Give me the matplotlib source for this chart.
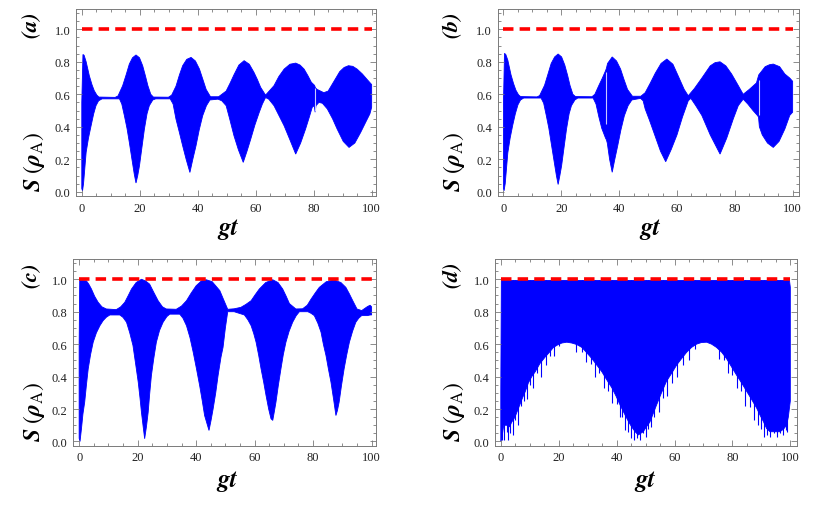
import numpy as np
import matplotlib
matplotlib.use("Agg")
import matplotlib.pyplot as plt
from matplotlib.ticker import MultipleLocator, FormatStrFormatter

plt.rcParams['mathtext.fontset'] = 'stix'

# ---- envelope values (gt, S) ----
# panel (a)
up_gt_a = [0, 0.4, 0.8, 1.5, 2.6, 3.5, 4.3, 5.2, 5.9, 11.5, 12.5, 14.1, 15.3, 16.4, 17.5, 18.7,
           19.9, 21, 22, 22.8, 23.8, 24.7, 29.9, 31, 32.5, 33.7, 34.8, 36.2, 37.7, 39.2, 40.6,
           41.8, 42.9, 44.4, 47.2, 49.8, 51.2, 52.5, 54.2, 56, 57.8, 59.4, 60.6, 61.7, 63.4, 66.3,
           68, 69.8, 71.8, 73.8, 75.3, 76.7, 78, 79.2, 80.3, 80.6, 81.2, 83.5, 85, 87, 89, 90.5,
           92, 93.5, 95, 96.8, 98.5, 100]
up_s_a = [0.55, 0.845, 0.84, 0.80, 0.714, 0.66, 0.622, 0.595, 0.583, 0.581, 0.59, 0.653, 0.72,
          0.786, 0.825, 0.842, 0.825, 0.776, 0.71, 0.653, 0.60, 0.583, 0.582, 0.595, 0.65, 0.72,
          0.776, 0.815, 0.827, 0.805, 0.755, 0.69, 0.63, 0.585, 0.585, 0.62, 0.67, 0.72, 0.78,
          0.807, 0.785, 0.735, 0.69, 0.643, 0.595, 0.653, 0.71, 0.755, 0.785, 0.792, 0.78, 0.755,
          0.715, 0.674, 0.655, 0.64, 0.63, 0.61, 0.62, 0.68, 0.74, 0.765, 0.776, 0.772, 0.755,
          0.725, 0.69, 0.66]
lo_gt_a = [0, 0.25, 0.6, 1.5, 2.3, 3.2, 4.1, 4.9, 5.8, 7, 13, 13.8, 14.7, 15.6, 16.4, 17.3, 18.1,
           18.7, 19.3, 19.9, 20.8, 21.6, 22.5, 23.3, 24.5, 25.5, 30.5, 31.5, 32.5, 33.6, 34.8, 36,
           37.3, 38.3, 39.4, 40.5, 41.7, 43, 44.2, 47, 48.3, 49.8, 51, 52.5, 54, 55.7, 57, 58.3,
           59.7, 61.2, 62.3, 63.4, 64.5, 66.3, 68, 69.8, 71.8, 73.8, 75.5, 77.2, 78.5, 79.5, 80.2,
           80.5, 80.8, 81.8, 83, 84.7, 86.5, 88.1, 90.2, 92.2, 94.2, 96.2, 98, 99.4, 100]
lo_s_a = [0.02, 0.005, 0.05, 0.243, 0.33, 0.406, 0.48, 0.53, 0.56, 0.572, 0.572, 0.54, 0.468, 0.39,
          0.304, 0.2, 0.109, 0.054, 0.1, 0.16, 0.28, 0.386, 0.48, 0.53, 0.565, 0.572, 0.572, 0.54,
          0.447, 0.37, 0.283, 0.2, 0.119, 0.2, 0.283, 0.38, 0.468, 0.53, 0.565, 0.57, 0.56, 0.53,
          0.45, 0.345, 0.26, 0.181, 0.25, 0.325, 0.41, 0.488, 0.54, 0.58, 0.57, 0.53, 0.47, 0.406,
          0.32, 0.232, 0.3, 0.386, 0.46, 0.52, 0.53, 0.49, 0.53, 0.55, 0.545, 0.51, 0.45, 0.386,
          0.31, 0.273, 0.3, 0.365, 0.43, 0.48, 0.52]
glitch_gt_a = [80.5]
glitch_lo_a = [0.50]
glitch_hi_a = [0.64]

# panel (b)
up_gt_b = [0, 0.35, 0.8, 1.5, 2.6, 3.5, 4.3, 5.2, 5.9, 11.6, 12.5, 14.2, 15.4, 16.5, 17.7, 18.9,
           20.1, 21.2, 22.2, 23, 24, 24.9, 30.6, 31.6, 33, 34.2, 35.3, 35.6, 36, 37.6, 39.1, 40.5,
           41.7, 42.9, 44.6, 47.5, 49, 50.8, 52.5, 54.5, 56.5, 58.6, 60.5, 62.5, 63.9, 66, 68.6,
           71.5, 73.2, 74.9, 76.9, 78.9, 81, 82.9, 85, 87.5, 87.8, 88.3, 90.5, 92, 93.3, 95.5,
           97.3, 99, 100]
up_s_b = [0.55, 0.852, 0.845, 0.81, 0.72, 0.665, 0.625, 0.597, 0.586, 0.584, 0.592, 0.655, 0.725,
          0.79, 0.83, 0.848, 0.83, 0.78, 0.715, 0.655, 0.60, 0.586, 0.585, 0.60, 0.655, 0.70,
          0.745, 0.76, 0.79, 0.83, 0.805, 0.755, 0.69, 0.63, 0.588, 0.588, 0.61, 0.67, 0.73, 0.79,
          0.817, 0.785, 0.71, 0.63, 0.591, 0.635, 0.70, 0.775, 0.795, 0.80, 0.775, 0.725, 0.66,
          0.60, 0.63, 0.67, 0.69, 0.72, 0.77, 0.782, 0.786, 0.77, 0.725, 0.70, 0.68]
lo_gt_b = [0, 0.2, 0.6, 1.5, 2.3, 3.2, 4.1, 5, 5.9, 7, 13, 13.9, 14.8, 15.7, 16.5, 17.4, 18.3, 18.9,
           19.5, 20.1, 21, 21.8, 22.7, 23.5, 24.7, 25.7, 31, 32, 33, 34, 35.3, 35.6, 35.9, 36.7,
           37.6, 38.5, 39.5, 40.6, 41.8, 43.1, 44.4, 47.4, 48.3, 49, 50.5, 52.5, 54.3, 56.1, 58, 60,
           61.9, 63.9, 64.8, 66.5, 68.6, 71.5, 74.9, 77.2, 79.5, 81.2, 82.9, 84.5, 86.3, 87.8, 88.2,
           88.5, 89.5, 91.3, 93.3, 95.3, 97.3, 99, 100]
lo_s_b = [0.02, 0.006, 0.05, 0.24, 0.33, 0.41, 0.48, 0.535, 0.565, 0.577, 0.577, 0.545, 0.47, 0.39,
          0.30, 0.20, 0.10, 0.045, 0.10, 0.16, 0.28, 0.386, 0.48, 0.53, 0.565, 0.577, 0.577, 0.54,
          0.46, 0.39, 0.33, 0.32, 0.30, 0.20, 0.12, 0.20, 0.283, 0.38, 0.468, 0.53, 0.565, 0.575,
          0.56, 0.51, 0.44, 0.34, 0.25, 0.185, 0.26, 0.35, 0.46, 0.56, 0.575, 0.53, 0.47, 0.35,
          0.232, 0.33, 0.45, 0.53, 0.57, 0.54, 0.50, 0.47, 0.46, 0.40, 0.35, 0.30, 0.273, 0.31,
          0.386, 0.47, 0.49]
glitch_gt_b = [35.5, 88.2]
glitch_lo_b = [0.42, 0.47]
glitch_hi_b = [0.74, 0.69]

# panel (c)
up_gt_c = [0, 0.2, 2.5, 3.3, 4.2, 5.3, 6.5, 7.8, 9.3, 12.7, 14.2, 15.6, 16.8, 17.9, 19.5, 21.3,
           22.7, 24.1, 25.5, 27, 28.5, 29.8, 33.2, 35, 36.7, 38.3, 40, 41.8, 43.5, 45.5, 48.1, 49.5,
           50.8, 53, 55.3, 57, 58.8, 60.2, 61.6, 63.8, 66.2, 68, 69.6, 70.8, 71.9, 74.1, 76.4, 78,
           79.3, 80.7, 82.1, 84.5, 87.2, 89.5, 91.2, 92.4, 93.5, 95, 96.6, 98.6, 99.5, 100]
up_s_c = [0.6, 0.995, 0.99, 0.97, 0.94, 0.895, 0.858, 0.83, 0.817, 0.813, 0.83, 0.858, 0.90, 0.94,
          0.98, 1.0, 0.99, 0.97, 0.92, 0.868, 0.83, 0.817, 0.815, 0.835, 0.868, 0.915, 0.96, 0.99,
          0.997, 0.985, 0.93, 0.87, 0.815, 0.818, 0.827, 0.845, 0.868, 0.905, 0.94, 0.98, 0.997,
          0.98, 0.94, 0.895, 0.85, 0.817, 0.818, 0.84, 0.878, 0.915, 0.95, 0.985, 0.995, 0.98,
          0.95, 0.91, 0.87, 0.817, 0.807, 0.832, 0.84, 0.83]
lo_gt_c = [0, 0.3, 0.8, 1.3, 1.9, 2.5, 3.1, 3.9, 4.8, 5.9, 7.1, 8.2, 9.3, 10.5, 13.9, 15, 16.2, 17.3,
           18.4, 19.3, 20.2, 20.8, 21.3, 21.9, 22.4, 23, 23.6, 24.1, 24.7, 25.5, 26.4, 27.5, 28.7,
           30, 31, 34.4, 35.5, 36.7, 37.9, 39, 40.1, 41.2, 42.1, 42.9, 44.4, 45.1, 45.8, 46.7, 47.5,
           48.5, 49.2, 50, 50.8, 53, 56.5, 57.7, 58.8, 59.7, 60.5, 61.4, 62.2, 63.1, 63.9, 64.8,
           65.6, 66.2, 66.7, 67.3, 68.1, 69, 69.8, 70.7, 71.8, 73, 74.2, 75.3, 78.2, 79.3, 80.4,
           81.6, 82.7, 83.5, 84.4, 85.2, 86.1, 87, 87.8, 88.3, 88.9, 89.7, 90.6, 91.5, 92.4, 93.5,
           94.6, 95.6, 96.6, 98.6, 99.5, 100]
lo_s_c = [0.02, 0.0, 0.08, 0.17, 0.243, 0.35, 0.448, 0.535, 0.612, 0.67, 0.714, 0.745, 0.766, 0.78,
          0.78, 0.765, 0.735, 0.67, 0.592, 0.48, 0.366, 0.27, 0.18, 0.09, 0.017, 0.09, 0.18, 0.29,
          0.406, 0.51, 0.612, 0.685, 0.735, 0.77, 0.785, 0.785, 0.76, 0.714, 0.64, 0.55, 0.45,
          0.345, 0.25, 0.16, 0.068, 0.13, 0.20, 0.30, 0.406, 0.52, 0.58, 0.70, 0.80, 0.80, 0.78,
          0.75, 0.714, 0.665, 0.612, 0.53, 0.448, 0.365, 0.284, 0.20, 0.14, 0.13, 0.18, 0.243,
          0.345, 0.448, 0.535, 0.612, 0.68, 0.735, 0.775, 0.80, 0.80, 0.79, 0.776, 0.73, 0.674,
          0.60, 0.53, 0.45, 0.366, 0.26, 0.16, 0.19, 0.243, 0.345, 0.448, 0.535, 0.612, 0.68,
          0.735, 0.76, 0.776, 0.776, 0.78, 0.78]

# panel (d)
up_gt_d = [0, 0.2, 99.7, 100]
up_s_d = [0.3, 0.993, 0.993, 0.95]
lo_gt_d = [0, 0.3, 1, 2.1, 3, 3.8, 4.9, 6, 7.3, 8.5, 9.5, 10.7, 11.9, 13.5, 15.3, 16.8, 18.2, 19.6,
           21.1, 22.8, 24.5, 26.2, 28, 29.8, 31.5, 33.2, 34.9, 36.6, 38.4, 39.8, 41.2, 42.6, 44.1,
           45.2, 46.4, 47.5, 48.3, 49.2, 50.3, 51.5, 52.6, 53.8, 55.5, 57.2, 59, 60.7, 62.4, 64.2,
           65.9, 67.6, 69.3, 71.1, 72.8, 74.5, 76.3, 78, 79.7, 81.4, 83.2, 84.9, 86.6, 88.4, 89.6,
           90.7, 91.8, 93, 94.7, 96.4, 97.6, 98.7, 99.3, 100]
lo_s_d = [0.0, 0.01, 0.1, 0.1, 0.09, 0.12, 0.15, 0.2, 0.26, 0.31, 0.36, 0.4, 0.43, 0.48, 0.52, 0.55,
          0.58, 0.595, 0.607, 0.612, 0.607, 0.598, 0.58, 0.545, 0.51, 0.47, 0.43, 0.38, 0.33, 0.28,
          0.225, 0.175, 0.123, 0.09, 0.06, 0.04, 0.05, 0.06, 0.09, 0.12, 0.17, 0.225, 0.30, 0.37,
          0.42, 0.47, 0.51, 0.55, 0.58, 0.60, 0.61, 0.612, 0.60, 0.58, 0.55, 0.51, 0.46, 0.41, 0.36,
          0.31, 0.26, 0.205, 0.16, 0.123, 0.08, 0.06, 0.06, 0.06, 0.075, 0.10, 0.15, 0.25]
# thin downward spikes below the band in (d)
spike_gt_d = [0.5, 1.2, 2.0, 2.6, 3.3, 4.2, 5.0, 6.0, 7.0, 8.0, 9.0, 10.0, 11.0, 12.5, 14.0, 15.5,
              17.0, 18.5, 20.0, 26.0, 28.0, 29.5, 31.0, 32.5, 34.0, 35.5, 37.0, 38.5, 40.0, 41.0,
              42.0, 43.0, 44.0, 45.0, 46.0, 47.0, 48.0, 49.0, 50.0, 51.0, 52.0, 53.0, 54.5, 56.0,
              57.5, 59.0, 61.0, 63.0, 65.0, 67.0, 75.5, 77.0, 78.5, 80.0, 81.5, 83.0, 84.5, 86.0,
              87.5, 89.0, 90.0, 91.0, 92.0, 93.0, 94.5, 95.5, 96.5, 97.5, 98.5, 99.0]
spike_s_d = [0.01, 0.01, 0.06, 0.01, 0.05, 0.04, 0.13, 0.10, 0.22, 0.25, 0.26, 0.35, 0.33, 0.42,
             0.40, 0.47, 0.53, 0.53, 0.59, 0.55, 0.55, 0.49, 0.48, 0.40, 0.42, 0.33, 0.31, 0.24,
             0.23, 0.15, 0.15, 0.07, 0.06, 0.02, 0.01, 0.02, 0.01, 0.05, 0.03, 0.08, 0.09, 0.15,
             0.18, 0.27, 0.28, 0.36, 0.40, 0.47, 0.50, 0.57, 0.51, 0.50, 0.42, 0.41, 0.33, 0.31,
             0.22, 0.21, 0.13, 0.10, 0.08, 0.03, 0.04, 0.03, 0.05, 0.03, 0.05, 0.04, 0.07, 0.06]

panels = [
    ("a", up_gt_a, up_s_a, lo_gt_a, lo_s_a, (-2, 101.5)),
    ("b", up_gt_b, up_s_b, lo_gt_b, lo_s_b, (-2, 102.2)),
    ("c", up_gt_c, up_s_c, lo_gt_c, lo_s_c, (-2, 101.5)),
    ("d", up_gt_d, up_s_d, lo_gt_d, lo_s_d, (-2, 102.2)),
]
glitches = {"a": (glitch_gt_a, glitch_lo_a, glitch_hi_a),
            "b": (glitch_gt_b, glitch_lo_b, glitch_hi_b)}

W, H = 817, 506
# axes boxes in pixels: left, top, right, bottom
boxes = [(76, 10, 376, 197), (497.7, 10, 799, 197), (73.3, 260, 376, 446.7), (495, 260, 796.7, 446.7)]
# label anchor positions in pixels
tag_pos = [(32, 26), (452, 26), (32, 276), (452, 276)]
slab_pos = [(34, 162), (454, 162), (34, 412), (454, 412)]
gt_pos = [(228, 229), (650, 229), (227, 482), (645, 482)]

frame_col = "#7a7a7a"
serif = "Liberation Serif"

fig = plt.figure(figsize=(W / 100, H / 100), dpi=100)

for i, (tag, ugt, us, lgt, ls, xl) in enumerate(panels):
    l, t, r, b = boxes[i]
    ax = fig.add_axes([l / W, 1 - b / H, (r - l) / W, (b - t) / H])

    # oscillating band as one filled region: upper edge then lower edge back
    xs = list(ugt) + list(lgt)[::-1]
    ys = list(us) + list(ls)[::-1]
    ax.fill(xs, ys, color="#0000ff", lw=0.6, ec="#0000ff")
    if tag == "d":
        ax.vlines(spike_gt_d, spike_s_d, max(up_s_d), color="#0000ff", lw=0.8)
    if tag in glitches:
        g_x, g_lo, g_hi = glitches[tag]
        ax.vlines(g_x, g_lo, g_hi, color="#c8c8ff", lw=0.8)

    ax.plot([0, 100], [1, 1], color="#ff0000", lw=2.6, dashes=(2.9, 1.7))

    ax.set_xlim(*xl)
    ax.set_ylim(-0.026, 1.125)
    ax.xaxis.set_major_locator(MultipleLocator(20))
    ax.xaxis.set_minor_locator(MultipleLocator(5))
    ax.yaxis.set_major_locator(MultipleLocator(0.2))
    ax.yaxis.set_minor_locator(MultipleLocator(0.05))
    ax.yaxis.set_major_formatter(FormatStrFormatter("%.1f"))
    ax.tick_params(which="both", direction="in", top=True, right=True, color=frame_col,
                   width=0.6, labelsize=9, labelcolor="#222222", pad=4)
    ax.tick_params(which="major", length=4)
    ax.tick_params(which="minor", length=2)
    for lab in ax.get_xticklabels() + ax.get_yticklabels():
        lab.set_fontfamily(serif)
    for sp in ax.spines.values():
        sp.set_color(frame_col)
        sp.set_linewidth(0.7)

    x, y = tag_pos[i]
    fig.text(x / W, 1 - y / H, r"$\mathbfit{(%s)}$" % tag, rotation=90, ha="center",
             va="center", fontsize=16)
    x, y = slab_pos[i]
    fig.text(x / W, 1 - y / H, r"$\mathbfit{S}\ (\mathbfit{\rho}_{\mathrm{A}})$", rotation=90,
             ha="center", va="center", fontsize=17)
    x, y = gt_pos[i]
    fig.text(x / W, 1 - y / H, r"$\mathbfit{gt}$", ha="center", va="center", fontsize=18)

fig.savefig("out.png", dpi=100)
